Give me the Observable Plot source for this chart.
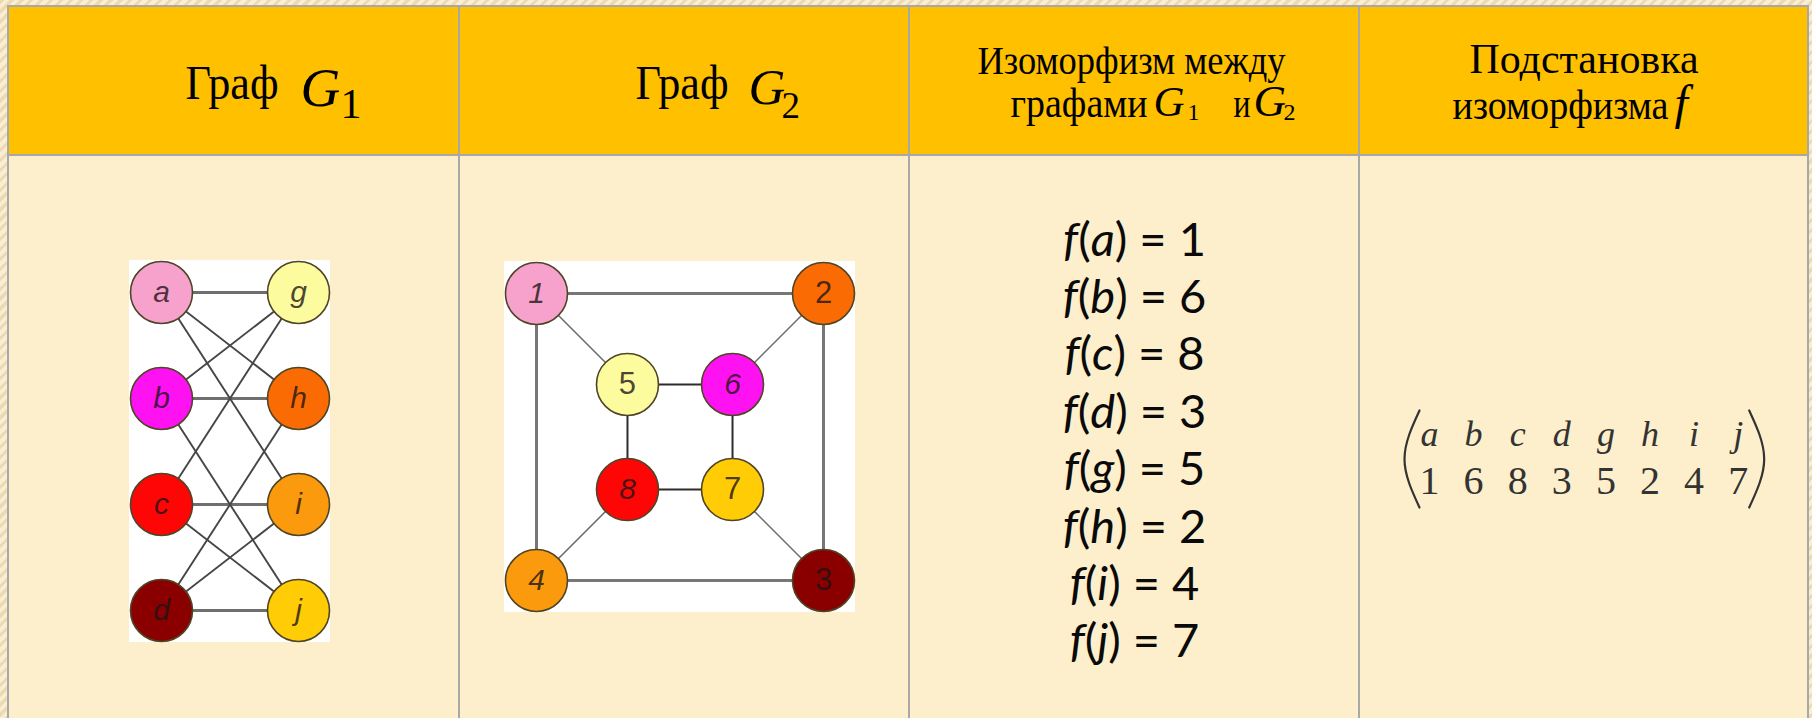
<!DOCTYPE html>
<html><head><meta charset="utf-8">
<script src="https://cdn.jsdelivr.net/npm/d3@7"></script>
<script src="https://cdn.jsdelivr.net/npm/@observablehq/plot@0.6"></script>
<style>
html,body{margin:0;padding:0;}
body{width:1812px;height:718px;overflow:hidden;
  background:repeating-linear-gradient(135deg,#eddab0 0 3px,#f9eed3 3px 7px);}
#chart svg{display:block}
</style></head><body><div id="chart"></div>
<script>
// ---------- data ----------
const g1Left = ["a","b","c","d"];
const g1Right = ["g","h","i","j"];
const g1Edges = [["a","g"],["a","h"],["a","i"],["b","g"],["b","h"],["b","j"],
                 ["c","g"],["c","i"],["c","j"],["d","h"],["d","i"],["d","j"]];
const g2Outer = ["1","2","3","4"];          // clockwise from top-left
const g2Inner = ["5","6","7","8"];          // clockwise from top-left
const g2Edges = [["1","2"],["2","3"],["3","4"],["4","1"],["1","5"],["2","6"],
                 ["3","7"],["4","8"],["5","6"],["6","7"],["7","8"],["8","5"]];
const isoFrom = ["a","b","c","d","g","h","i","j"];
const isoTo   = ["1","6","8","3","5","2","4","7"];
const vertexColors = ["#f6a2cc","#ff12f2","#ff0606","#8a0000","#fcfb9e","#fb6b04","#fb9a0c","#ffcc06"]; // a b c d g h i j
const g2ItalicLabels = ["1","4","6","8"];

// ---------- layout ----------
const W = 1812, H = 718;
const colEdges = [8, 459, 909, 1359, 1808];
const headTop = 6, headBottom = 155, tableBottom = 730;
const colorOf = new Map(isoFrom.map((v, i) => [v, vertexColors[i]]));
isoTo.forEach((v, i) => colorOf.set(v, vertexColors[i]));

// G1: two columns of four
const g1 = {x0: 161, dx: 137, y0: 292, dy: 106};
const nodes1 = [...g1Left.map((id, r) => ({id, side: 0, row: r})),
                ...g1Right.map((id, r) => ({id, side: 1, row: r}))]
  .map(d => ({...d, x: g1.x0 + d.side * g1.dx, y: g1.y0 + d.row * g1.dy, color: colorOf.get(d.id)}));
// G2: outer square + inner square (unit coords)
const g2 = {x0: 536, y0: 293, s: 287, inner: 0.317};
const corner = [[0,0],[1,0],[1,1],[0,1]];
const nodes2 = [
  ...g2Outer.map((id, k) => ({id, outer: true, u: corner[k][0], v: corner[k][1]})),
  ...g2Inner.map((id, k) => ({id, outer: false,
      u: corner[k][0] ? 1 - g2.inner : g2.inner, v: corner[k][1] ? 1 - g2.inner : g2.inner}))
].map(d => ({...d, x: g2.x0 + d.u * g2.s, y: g2.y0 + d.v * g2.s, color: colorOf.get(d.id)}));

const R = 31;
const byId = new Map([...nodes1, ...nodes2].map(d => [d.id, d]));
const mkEdges = E => E.map(([a, b]) => ({a: byId.get(a), b: byId.get(b)}));
const edges1 = mkEdges(g1Edges), edges2 = mkEdges(g2Edges);
const axisAligned = e => Math.abs(e.a.x - e.b.x) < 1 || Math.abs(e.a.y - e.b.y) < 1;

const bbox = ns => ({x1: d3.min(ns, d => d.x) - R - 1, x2: d3.max(ns, d => d.x) + R + 1,
                     y1: d3.min(ns, d => d.y) - R - 1, y2: d3.max(ns, d => d.y) + R + 1});
const whiteBoxes = [bbox(nodes1), bbox(nodes2)];

const cells = [];
for (let c = 0; c < 4; c++) {
  cells.push({x1: colEdges[c], x2: colEdges[c+1], y1: headTop, y2: headBottom, fill: "#ffc000"});
  cells.push({x1: colEdges[c], x2: colEdges[c+1], y1: headBottom, y2: tableBottom, fill: "#fdefcb"});
}

// header pieces (text layout)
const headRoman = [
  {t: "Граф", x: 185, y: 98, s: 48, w: 93},
  {t: "Граф", x: 635, y: 98, s: 48, w: 93},
  {t: "1", x: 340, y: 117, s: 42},
  {t: "2", x: 781, y: 117, s: 37},
  {t: "Изоморфизм между", x: 977, y: 73, s: 41, w: 308},
  {t: "графами", x: 1010, y: 116, s: 42, w: 137},
  {t: "1", x: 1187, y: 119, s: 24},
  {t: "и", x: 1233, y: 116, s: 42, w: 17},
  {t: "2", x: 1283, y: 119, s: 24},
  {t: "Подстановка", x: 1469, y: 72, s: 43, w: 229},
  {t: "изоморфизма", x: 1452, y: 118, s: 43, w: 216}
];
const headWidth = new Map(headRoman.filter(d => d.w).map(d => [d.t, d.w]));
const headItalic = [
  {t: "G", x: 300, y: 105, s: 55},
  {t: "G", x: 748, y: 103, s: 51},
  {t: "G", x: 1153, y: 115, s: 43},
  {t: "G", x: 1253, y: 115, s: 45},
  {t: "f", x: 1674, y: 118, s: 48}
];

// mapping list
const mapping = isoFrom.map((f, i) => ({f, t: isoTo[i], i}));
const mapX = (colEdges[2] + colEdges[3]) / 2, mapY0 = 255, mapDy = 57.4;
// permutation matrix
const perm = {x0: 1429, dx: 44.1, yTop: 445, yBot: 493};
const permTop = isoFrom.map((v, k) => ({v, k}));
const permBot = isoTo.map((v, k) => ({v, k}));
const pL = perm.x0 - 25, pR = perm.x0 + (isoFrom.length - 1) * perm.dx + 26;
const pT = perm.yTop - 35, pB = perm.yBot + 14, pM = (pT + pB) / 2;
const parens = [
  {z: "L", x: pL + 15, y: pT}, {z: "L", x: pL, y: pM}, {z: "L", x: pL + 15, y: pB},
  {z: "R", x: pR - 15, y: pT}, {z: "R", x: pR, y: pM}, {z: "R", x: pR - 15, y: pB}
];

const serif = "'Liberation Serif','Times New Roman',serif";
const sans = "'Liberation Sans',Arial,sans-serif";

const plot = Plot.plot({
  width: W, height: H, margin: 0,
  x: {domain: [0, W], range: [0, W], axis: null},
  y: {domain: [0, H], range: [0, H], axis: null},
  color: {type: "identity"},
  style: {background: "transparent", overflow: "hidden"},
  marks: [
    Plot.rect(cells, {x1: "x1", x2: "x2", y1: "y1", y2: "y2", fill: "fill", stroke: "#a8a8a8", strokeWidth: 2}),
    Plot.rect(whiteBoxes, {x1: "x1", x2: "x2", y1: "y1", y2: "y2", fill: "#ffffff"}),
    // G1 edges
    Plot.link(edges1.filter(axisAligned), {x1: d => d.a.x, y1: d => d.a.y, x2: d => d.b.x, y2: d => d.b.y, stroke: "#6f6f6f", strokeWidth: 3}),
    Plot.link(edges1.filter(e => !axisAligned(e)), {x1: d => d.a.x, y1: d => d.a.y, x2: d => d.b.x, y2: d => d.b.y, stroke: "#454545", strokeWidth: 1.9}),
    // G2 edges
    Plot.link(edges2.filter(e => axisAligned(e) && e.a.outer), {x1: d => d.a.x, y1: d => d.a.y, x2: d => d.b.x, y2: d => d.b.y, stroke: "#777777", strokeWidth: 3}),
    Plot.link(edges2.filter(e => axisAligned(e) && !e.a.outer), {x1: d => d.a.x, y1: d => d.a.y, x2: d => d.b.x, y2: d => d.b.y, stroke: "#2c2c2c", strokeWidth: 2}),
    Plot.link(edges2.filter(e => !axisAligned(e)), {x1: d => d.a.x, y1: d => d.a.y, x2: d => d.b.x, y2: d => d.b.y, stroke: "#6a6a6a", strokeWidth: 1.5}),
    // nodes
    Plot.dot([...nodes1, ...nodes2], {x: "x", y: "y", r: R, fill: "color", stroke: "#4f4526", strokeWidth: 1.6}),
    Plot.text([...nodes1, ...nodes2.filter(d => g2ItalicLabels.includes(d.id))], {x: "x", y: "y", text: "id", fontSize: 30, fontStyle: "italic", fontFamily: sans, fill: "#1e1414", fillOpacity: 0.8}),
    Plot.text(nodes2.filter(d => !g2ItalicLabels.includes(d.id)), {x: "x", y: "y", text: "id", fontSize: 31, fontFamily: sans, fill: "#1e1414", fillOpacity: 0.8}),
    // headers
    Plot.text(headRoman, {x: "x", y: "y", text: "t", fontSize: "s", textAnchor: "start", lineAnchor: "bottom", fontFamily: serif, fill: "#000"}),
    Plot.text(headItalic, {x: "x", y: "y", text: "t", fontSize: "s", textAnchor: "start", lineAnchor: "bottom", fontFamily: serif, fontStyle: "italic", fill: "#000"}),
    // mapping
    Plot.text(mapping, {x: () => mapX, y: d => mapY0 + d.i * mapDy, text: d => `f(${d.f}) = ${d.t}`, fontSize: 47, lineAnchor: "bottom", fontFamily: "Lato, 'Open Sans', sans-serif", fill: "#0a0a0a"}),
    // permutation
    Plot.text(permTop, {x: d => perm.x0 + d.k * perm.dx, y: () => perm.yTop, text: "v", fontSize: 36, fontStyle: "italic", lineAnchor: "bottom", fontFamily: serif, fill: "#333"}),
    Plot.text(permBot, {x: d => perm.x0 + d.k * perm.dx, y: () => perm.yBot, text: "v", fontSize: 40, lineAnchor: "bottom", fontFamily: serif, fill: "#333"}),
    Plot.line(parens, {x: "x", y: "y", z: "z", curve: "natural", stroke: "#333", strokeWidth: 2.2})
  ]
});
document.getElementById("chart").appendChild(plot);

const svg = d3.select(plot);
svg.selectAll("text").each(function () {
  const s = this.textContent;
  const el = d3.select(this);
  // header word widths
  if (headWidth.has(s) && el.attr("font-style") !== "italic") {
    el.attr("textLength", headWidth.get(s)).attr("lengthAdjust", "spacingAndGlyphs");
    return;
  }
  // mixed italic in mapping lines
  const m = /^f\((.+)\) = (.+)$/.exec(s);
  if (!m) return;
  el.style("white-space", "pre").text(null);
  el.append("tspan").attr("font-style", "italic").text("f");
  el.append("tspan").text("(");
  el.append("tspan").attr("font-style", "italic").text(m[1]);
  el.append("tspan").text(") = " + m[2]);
});
</script></body></html>
